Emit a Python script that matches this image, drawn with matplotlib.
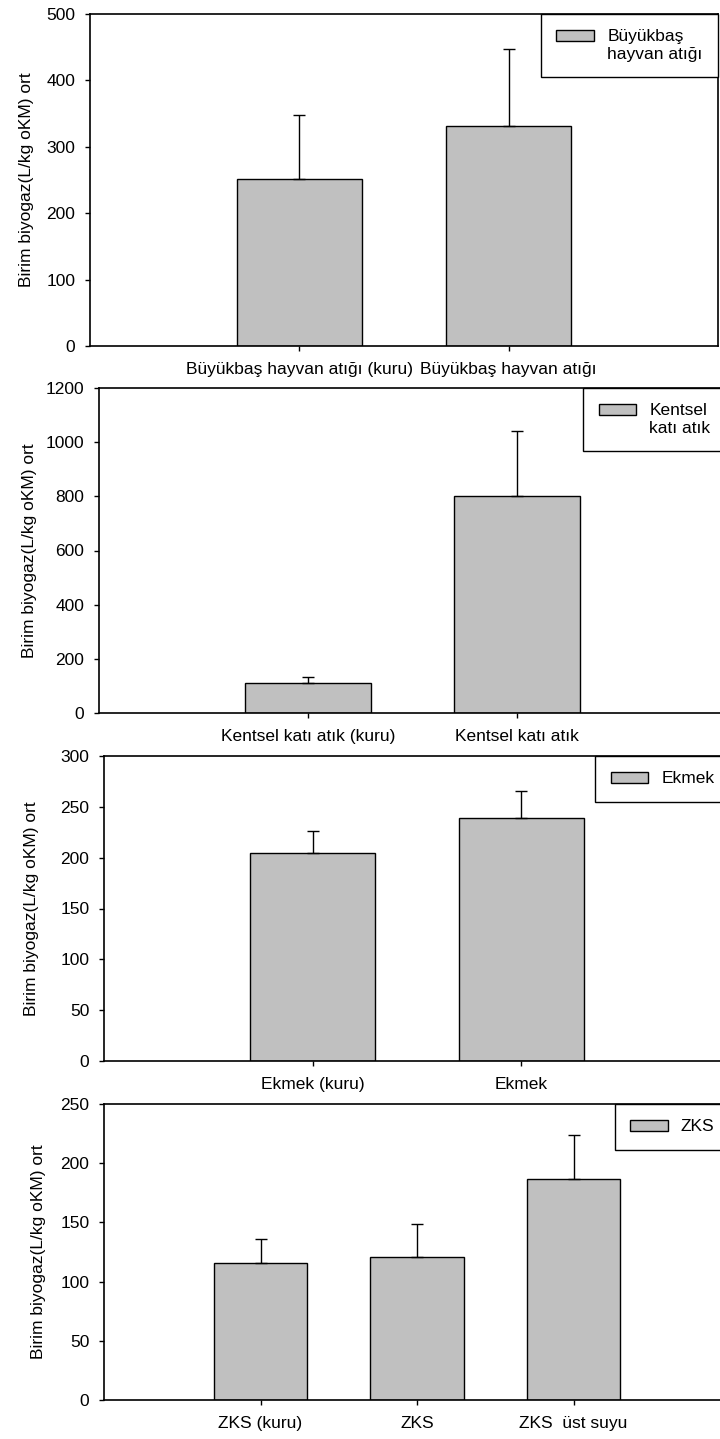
import numpy as np
import matplotlib
matplotlib.use("Agg")
import matplotlib.pyplot as plt
from matplotlib.patches import Rectangle
from matplotlib.legend_handler import HandlerPatch

plt.rcParams['font.family'] = ['Liberation Sans', 'DejaVu Sans']

# --- data: mean unit biogas and upper standard deviation per group ---
buyukbas_labels = ["Büyükbaş hayvan atığı (kuru)", "Büyükbaş hayvan atığı"]
buyukbas_mean = [252, 332]
buyukbas_sd = [96, 115]

kentsel_labels = ["Kentsel katı atık (kuru)", "Kentsel katı atık"]
kentsel_mean = [111, 800]
kentsel_sd = [22, 242]

ekmek_labels = ["Ekmek (kuru)", "Ekmek"]
ekmek_mean = [205, 239]
ekmek_sd = [21, 27]

zks_labels = ["ZKS (kuru)", "ZKS", "ZKS  üst suyu"]
zks_mean = [116, 120.5, 187]
zks_sd = [20, 28, 37]

ylabel = "Birim biyogaz(L/kg oKM) ort"
fs = 12.5
W, H = 720, 1439


class TopLineHandler(HandlerPatch):
    # put the legend swatch next to the first line of a two-line label
    def __init__(self, shift):
        super().__init__()
        self.shift = shift

    def create_artists(self, legend, orig_handle, xdescent, ydescent,
                       width, height, fontsize, trans):
        p = Rectangle((-xdescent, -ydescent + self.shift * fontsize), width, height)
        self.update_prop(p, orig_handle, legend)
        p.set_transform(trans)
        return [p]


def panel(box, labels, mean, sd, ymax, ystep, legend_text, label_x, shift=0.0):
    left, top, right, bottom = box
    ax = fig.add_axes([left / W, 1 - bottom / H, (right - left) / W, (bottom - top) / H])
    x = np.arange(1, len(labels) + 1)
    bars = ax.bar(x, mean, width=0.6, color="#c0c0c0", edgecolor="black",
                  linewidth=1.0, zorder=2)
    ax.errorbar(x, mean, yerr=[np.zeros(len(sd)), sd], fmt="none", ecolor="black",
                elinewidth=1.0, capsize=4.3, capthick=1.0, zorder=3)
    ax.set_xlim(0, len(labels) + 1)
    ax.set_ylim(0, ymax)
    ax.set_yticks(np.arange(0, ymax + 1, ystep))
    ax.set_xticks(x)
    ax.set_xticklabels(labels)
    ax.tick_params(axis="both", direction="out", length=3.6, width=1.0, labelsize=fs)
    ax.tick_params(axis="x", pad=8)
    ax.tick_params(axis="y", pad=7)
    for s in ax.spines.values():
        s.set_linewidth(1.2)
    ax.set_ylabel(ylabel, fontsize=fs)
    ax.yaxis.set_label_coords(label_x, 0.5)
    swatch = bars.patches[0]
    handler = {swatch: TopLineHandler(shift)} if shift else None
    leg = ax.legend([swatch], [legend_text], loc="upper right", bbox_to_anchor=(1, 1),
                    borderaxespad=0, fontsize=fs, fancybox=False, framealpha=1,
                    edgecolor="black", handlelength=2.18, handleheight=0.6,
                    handletextpad=0.75, borderpad=0.89, handler_map=handler)
    leg.get_frame().set_linewidth(1.0)
    return ax


fig = plt.figure(figsize=(7.2, 14.39), dpi=100)

panel((90, 14, 718, 346), buyukbas_labels, buyukbas_mean, buyukbas_sd,
      500, 100, "Büyükbaş\nhayvan atığı", -0.089, shift=0.6)
panel((99, 388, 726, 713), kentsel_labels, kentsel_mean, kentsel_sd,
      1200, 200, "Kentsel\nkatı atık", -0.099, shift=0.6)
panel((104, 756, 730, 1061), ekmek_labels, ekmek_mean, ekmek_sd,
      300, 50, "Ekmek", -0.104)
panel((104, 1104, 730, 1400), zks_labels, zks_mean, zks_sd,
      250, 50, "ZKS", -0.093)

fig.savefig("out.png", dpi=100)
